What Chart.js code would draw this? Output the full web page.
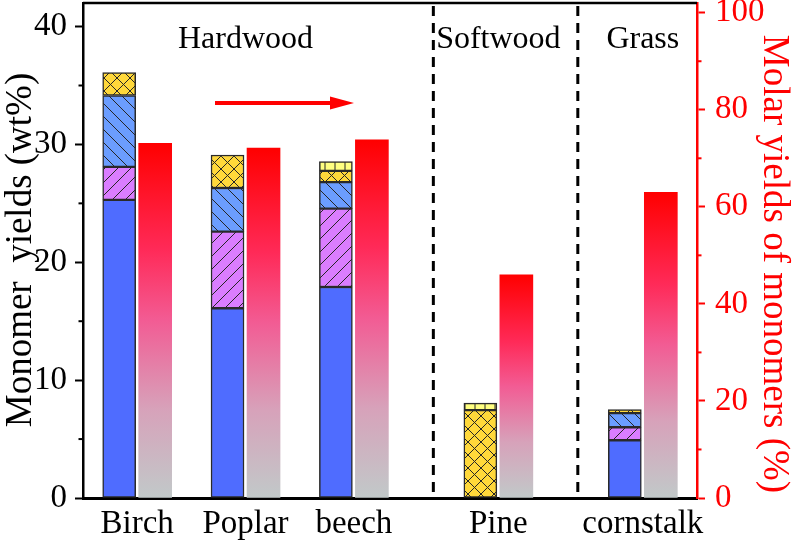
<!DOCTYPE html>
<html>
<head>
<meta charset="utf-8">
<script src="https://cdn.jsdelivr.net/npm/chart.js@4.4.1/dist/chart.umd.min.js"></script>
<style>
  html, body { margin: 0; padding: 0; background: #fff; }
  #wrap { width: 793px; height: 543px; position: relative; }
</style>
</head>
<body>
<div id="wrap"><canvas id="chart"></canvas></div>
<script>
/* monomer yields per biomass: stacked wt% bars + molar yield bars (right axis) */

const categories = ["Birch", "Poplar", "beech", "Pine", "cornstalk"];
const groups = ["Hardwood", "Softwood", "Grass"];

// wt%, stacked bottom -> top
const blueSolid   = [25.3, 16.1, 17.9, 0,    4.9];
const pinkHatch   = [2.8,  6.5,  6.65, 0,    1.1];
const blueHatch   = [6.05, 3.7,  2.25, 0,    1.2];
const yellowCross = [1.95, 2.8,  0.95, 7.45, 0.3];
const yellowLines = [0,    0,    0.8,  0.6,  0];

// molar yields of monomers, %
const molarYield  = [73.1, 72.1, 73.8, 46.0, 63.0];

const leftTicks  = [0, 10, 20, 30, 40];
const rightTicks = [0, 20, 40, 60, 80, 100];

// layout: categories sit on a 17-slot axis so the groups get wider gaps
const SLOT = [1, 4, 7, 11, 15];
const NSLOT = 17;
const FONT = "'Liberation Serif', 'Times New Roman', serif";

const labels = Array(NSLOT).fill("");
SLOT.forEach((s, i) => { labels[s] = categories[i]; });
const onSlots = (arr) => {
  const out = Array(NSLOT).fill(null);
  arr.forEach((v, i) => { out[SLOT[i]] = v ? v : null; });
  return out;
};

const cv = document.getElementById("chart");
const ctx2d = cv.getContext("2d");

function pattern(bg, kind, s) {
  const c = document.createElement("canvas");
  c.width = s; c.height = s;
  const g = c.getContext("2d");
  g.fillStyle = bg; g.fillRect(0, 0, s, s);
  g.strokeStyle = "#262626"; g.lineWidth = 1;
  g.beginPath();
  if (kind === "/" || kind === "x") {
    g.moveTo(0, s); g.lineTo(s, 0);
    g.moveTo(-2, 2); g.lineTo(2, -2);
    g.moveTo(s - 2, s + 2); g.lineTo(s + 2, s - 2);
  }
  if (kind === "\\" || kind === "x") {
    g.moveTo(0, 0); g.lineTo(s, s);
    g.moveTo(s - 2, -2); g.lineTo(s + 2, 2);
    g.moveTo(-2, s - 2); g.lineTo(2, s + 2);
  }
  if (kind === "|") {
    g.moveTo(s / 2, 0); g.lineTo(s / 2, s);
  }
  g.stroke();
  return ctx2d.createPattern(c, "repeat");
}

const stackStyle = { stack: "wt", yAxisID: "y", borderColor: "#2a2a2a", borderWidth: 1.5, borderSkipped: false };

function redGradient(c) {
  const chart = c.chart;
  if (c.type !== "data" || c.raw == null || !chart.chartArea || !chart.scales.y1) return "#ff0000";
  const y1 = chart.scales.y1;
  const top = y1.getPixelForValue(c.raw), bot = y1.getPixelForValue(0);
  if (!isFinite(top) || !isFinite(bot) || top === bot) return "#ff0000";
  const g = chart.ctx.createLinearGradient(0, top, 0, bot);
  g.addColorStop(0, "#ff0000");
  g.addColorStop(0.3, "#ff2a58");
  g.addColorStop(0.5, "#f25c94");
  g.addColorStop(0.75, "#d7a2ba");
  g.addColorStop(1, "#c1c9c9");
  return g;
}

function minorTicks(chart, scaleId, values, color, dir) {
  const sc = chart.scales[scaleId];
  const x = dir < 0 ? chart.chartArea.left : chart.chartArea.right;
  const c = chart.ctx;
  c.save();
  c.strokeStyle = color; c.lineWidth = 2;
  values.forEach(v => {
    const y = sc.getPixelForValue(v);
    c.beginPath(); c.moveTo(x, y); c.lineTo(x + dir * 4.5, y); c.stroke();
  });
  c.restore();
}

const decor = {
  id: "decor",
  afterDraw(chart) {
    const { ctx, chartArea: a, scales } = chart;
    const x = scales.x;
    ctx.save();
    // top frame
    ctx.strokeStyle = "#000"; ctx.lineWidth = 2.5;
    ctx.beginPath(); ctx.moveTo(a.left, a.top); ctx.lineTo(a.right, a.top); ctx.stroke();
    // group dividers
    ctx.setLineDash([10, 7]); ctx.lineWidth = 3;
    [9.2, 13.2].forEach(v => {
      const px = x.getPixelForValue(v);
      ctx.beginPath(); ctx.moveTo(px, a.top + 3); ctx.lineTo(px, a.bottom); ctx.stroke();
    });
    ctx.setLineDash([]);
    // group labels
    ctx.fillStyle = "#000"; ctx.font = "32px " + FONT;
    ctx.textAlign = "center"; ctx.textBaseline = "alphabetic";
    [4, 11, 15].forEach((v, i) => {
      ctx.fillText(groups[i], x.getPixelForValue(v), 48);
    });
    // arrow
    const y = 103;
    ctx.strokeStyle = "#ff0000"; ctx.fillStyle = "#ff0000"; ctx.lineWidth = 4;
    ctx.beginPath(); ctx.moveTo(215, y); ctx.lineTo(334, y); ctx.stroke();
    ctx.beginPath(); ctx.moveTo(330, y - 6.5); ctx.lineTo(354, y); ctx.lineTo(330, y + 6.5); ctx.closePath(); ctx.fill();
    ctx.restore();
    // minor ticks
    minorTicks(chart, "y", [5, 15, 25, 35], "#000", -1);
    minorTicks(chart, "y1", [10, 30, 50, 70, 90], "#ff0000", 1);
    // axis titles
    ctx.save();
    ctx.font = "37px " + FONT; ctx.textAlign = "center"; ctx.textBaseline = "middle";
    ctx.fillStyle = "#000";
    ctx.translate(21, 250); ctx.rotate(-Math.PI / 2);
    ctx.fillText("Monomer  yields (wt%)", 0, 0);
    ctx.restore();
    ctx.save();
    ctx.font = "37px " + FONT; ctx.textAlign = "center"; ctx.textBaseline = "middle";
    ctx.fillStyle = "#ff0000";
    ctx.translate(774, 264); ctx.rotate(Math.PI / 2);
    ctx.fillText("Molar yields of monomers (%)", 0, 0);
    ctx.restore();
  }
};

new Chart(cv, {
  type: "bar",
  data: {
    labels,
    datasets: [
      { ...stackStyle, data: onSlots(blueSolid),   backgroundColor: "#4f6cff" },
      { ...stackStyle, data: onSlots(pinkHatch),   backgroundColor: pattern("#da7dff", "/", 13) },
      { ...stackStyle, data: onSlots(blueHatch),   backgroundColor: pattern("#6b9dff", "\\", 13) },
      { ...stackStyle, data: onSlots(yellowCross), backgroundColor: pattern("#ffd83a", "x", 13) },
      { ...stackStyle, data: onSlots(yellowLines), backgroundColor: pattern("#ffff80", "|", 10) },
      { stack: "mol", yAxisID: "y1", data: onSlots(molarYield), backgroundColor: redGradient, borderWidth: 0 },
    ],
  },
  options: {
    responsive: true, maintainAspectRatio: false, animation: false,
    layout: { padding: { top: 3, left: 0, right: 0, bottom: 0 } },
    barThickness: 36, maxBarThickness: 33,
    plugins: { legend: { display: false }, tooltip: { enabled: false } },
    scales: {
      x: {
        stacked: true,
        grid: { display: false, drawTicks: false },
        border: { display: true, color: "#000", width: 3 },
        ticks: { autoSkip: false, maxRotation: 0, padding: 7, color: "#000", font: { family: FONT, size: 33 } },
        afterFit: (s) => { s.height = 45; s.paddingLeft = 0; s.paddingRight = 0; },
      },
      y: {
        position: "left", stacked: true, min: 0, max: 42,
        afterBuildTicks: (s) => { s.ticks = leftTicks.map(v => ({ value: v })); },
        grid: { drawOnChartArea: false, drawTicks: true, tickLength: 8, tickWidth: 2, tickColor: "#000" },
        border: { display: true, color: "#000", width: 2.5 },
        ticks: { padding: 8, color: "#000", font: { family: FONT, size: 33 } },
        afterFit: (s) => { s.width = 83; s.paddingTop = 0; s.paddingBottom = 0; },
      },
      y1: {
        position: "right", stacked: true, min: 0, max: 102,
        afterBuildTicks: (s) => { s.ticks = rightTicks.map(v => ({ value: v })); },
        grid: { drawOnChartArea: false, drawTicks: true, tickLength: 8, tickWidth: 2, tickColor: "#ff0000" },
        border: { display: true, color: "#ff0000", width: 2.5 },
        ticks: { padding: 10, color: "#ff0000", font: { family: FONT, size: 33 } },
        afterFit: (s) => { s.width = 96; s.paddingTop = 0; s.paddingBottom = 0; },
      },
    },
  },
  plugins: [decor],
});
</script>
</body>
</html>
